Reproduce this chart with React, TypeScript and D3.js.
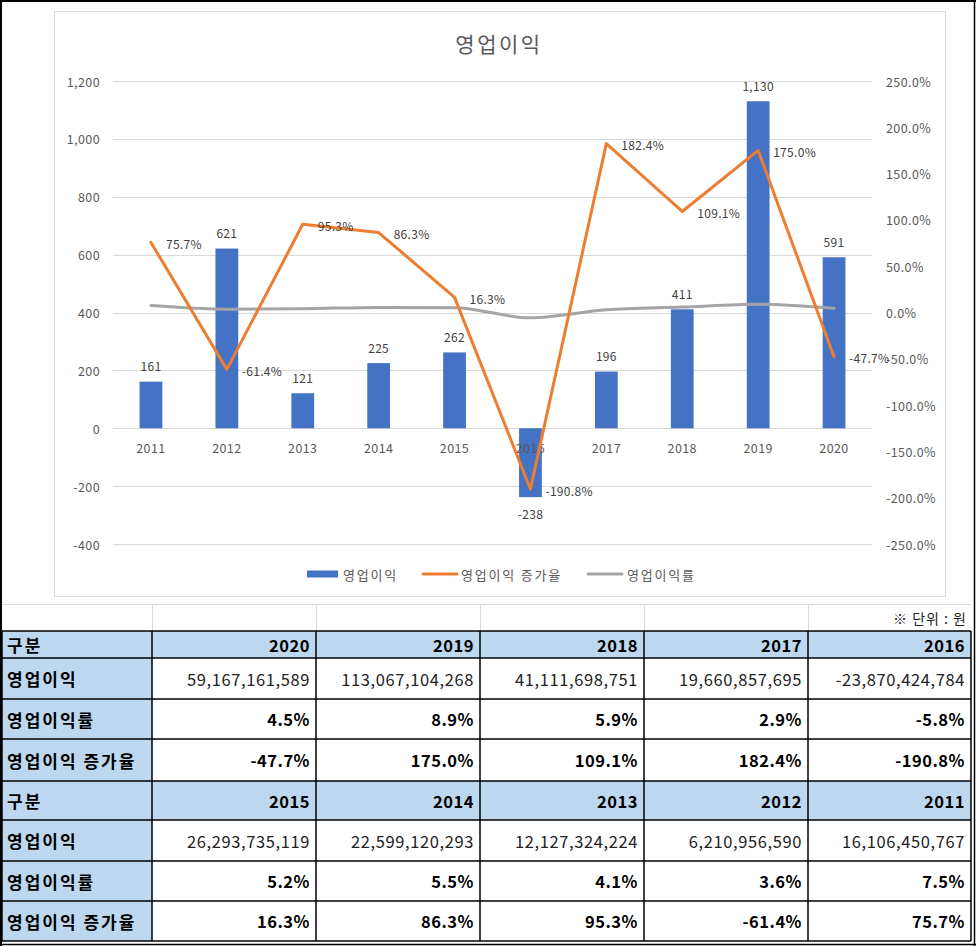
import React from "react";
import * as d3 from "d3";

const years = ["2011", "2012", "2013", "2014", "2015", "2016", "2017", "2018", "2019", "2020"];
const profit = [161, 621, 121, 225, 262, -238, 196, 411, 1130, 591];
const growth = [75.7, -61.4, 95.3, 86.3, 16.3, -190.8, 182.4, 109.1, 175.0, -47.7];
const margin = [7.5, 3.6, 4.1, 5.5, 5.2, -5.8, 2.9, 5.9, 8.9, 4.5];
const leftTicks = [-400, -200, 0, 200, 400, 600, 800, 1000, 1200];
const rightTicks = [-250, -200, -150, -100, -50, 0, 50, 100, 150, 200, 250];

const tableHeaders1 = ["2020", "2019", "2018", "2017", "2016"];
const tableProfit1 = ["59,167,161,589", "113,067,104,268", "41,111,698,751", "19,660,857,695", "-23,870,424,784"];
const tableMargin1 = ["4.5%", "8.9%", "5.9%", "2.9%", "-5.8%"];
const tableGrowth1 = ["-47.7%", "175.0%", "109.1%", "182.4%", "-190.8%"];
const tableHeaders2 = ["2015", "2014", "2013", "2012", "2011"];
const tableProfit2 = ["26,293,735,119", "22,599,120,293", "12,127,324,224", "6,210,956,590", "16,106,450,767"];
const tableMargin2 = ["5.2%", "5.5%", "4.1%", "3.6%", "7.5%"];
const tableGrowth2 = ["16.3%", "86.3%", "95.3%", "-61.4%", "75.7%"];
const rowLabels = ["구분", "영업이익", "영업이익률", "영업이익 증가율"];

const FONT = "'Noto Sans CJK KR', 'Malgun Gothic', sans-serif";
const fmt = (v: number) => d3.format(",")(v).replace("\u2212", "-");

export default function App() {
  const x = d3.scaleBand<string>().domain(years).range([113, 872]).padding(0);
  const yL = d3.scaleLinear().domain([-400, 1200]).range([544, 81]);
  const yR = d3.scaleLinear().domain([-250, 250]).range([544, 81]);
  const cx = (i: number) => (x(years[i]) as number) + x.bandwidth() / 2;
  const barW = x.bandwidth() * 0.3;

  const growthLine = d3.line<number>().x((_, i) => cx(i)).y((d) => yR(d));
  const marginLine = d3.line<number>().x((_, i) => cx(i)).y((d) => yR(d)).curve(d3.curveMonotoneX);

  // table geometry
  const colX = [2, 152, 316, 480, 644, 808, 971];
  const rowY = [631, 658, 699, 739, 781, 820, 861, 901, 941];
  const blocks = [
    [tableHeaders1, tableProfit1, tableMargin1, tableGrowth1],
    [tableHeaders2, tableProfit2, tableMargin2, tableGrowth2],
  ];

  const cells: React.ReactNode[] = [];
  blocks.forEach((block, b) => {
    block.forEach((row, r) => {
      const ri = b * 4 + r;
      const y0 = rowY[ri];
      const y1 = rowY[ri + 1];
      const isHeader = r === 0;
      cells.push(
        <rect key={`lbl-${ri}`} x={colX[0]} y={y0} width={colX[1] - colX[0]} height={y1 - y0} fill="#BDD7EE" />
      );
      cells.push(
        <text key={`lt-${ri}`} x={colX[0] + 5} y={(y0 + y1) / 2} dominantBaseline="central" fontSize={17} fontWeight={700} fill="#000" letterSpacing={2} fontFamily={FONT}>
          {rowLabels[r]}
        </text>
      );
      row.forEach((v, c) => {
        const xa = colX[c + 1];
        const xb = colX[c + 2];
        if (isHeader) {
          cells.push(<rect key={`h-${ri}-${c}`} x={xa} y={y0} width={xb - xa} height={y1 - y0} fill="#BDD7EE" />);
        }
        cells.push(
          <text
            key={`t-${ri}-${c}`}
            x={xb - 6}
            y={(y0 + y1) / 2}
            dominantBaseline="central"
            textAnchor="end"
            fontSize={16.5}
            letterSpacing={r === 1 ? 0.6 : 0.5}
            fontWeight={r === 1 ? 400 : 700}
            fill={r === 1 ? "#222" : "#000"}
            fontFamily={FONT}
          >
            {v}
          </text>
        );
      });
    });
  });

  return (
    <svg width={976} height={946} style={{ position: "absolute", left: 0, top: 0, background: "#fff" }} fontFamily={FONT}>
      <rect x={0} y={0} width={976} height={946} fill="#fff" />
      {/* chart area */}
      <rect x={54.5} y={11.5} width={891} height={585} fill="#fff" stroke="#D9D9D9" strokeWidth={1} />
      <text x={499} y={43} textAnchor="middle" dominantBaseline="central" fontSize={21} fill="#595959" letterSpacing={2.5}>
        영업이익
      </text>
      {/* gridlines */}
      {leftTicks.map((t) => (
        <line key={`g${t}`} x1={113} x2={872} y1={Math.round(yL(t)) + 0.5} y2={Math.round(yL(t)) + 0.5} stroke="#D9D9D9" strokeWidth={1} />
      ))}
      {leftTicks.map((t) => (
        <text key={`lt${t}`} x={100} y={yL(t)} textAnchor="end" dominantBaseline="central" fontSize={12.5} fill="#595959" letterSpacing={0.4}>
          {fmt(t)}
        </text>
      ))}
      {rightTicks.map((t) => (
        <text key={`rt${t}`} x={886} y={yR(t)} textAnchor="start" dominantBaseline="central" fontSize={12.5} fill="#595959" letterSpacing={0.4}>
          {t.toFixed(1)}%
        </text>
      ))}
      {/* bars */}
      {profit.map((v, i) => (
        <rect
          key={`b${i}`}
          x={cx(i) - barW / 2}
          y={Math.min(yL(v), yL(0))}
          width={barW}
          height={Math.abs(yL(v) - yL(0))}
          fill="#4472C4"
        />
      ))}
      {/* x labels */}
      {years.map((yv, i) => (
        <text key={`x${yv}`} x={cx(i)} y={447} textAnchor="middle" dominantBaseline="central" fontSize={12.5} fill="#595959" letterSpacing={0.4}>
          {yv}
        </text>
      ))}
      {/* lines */}
      <path d={marginLine(margin) || ""} fill="none" stroke="#A5A5A5" strokeWidth={3} strokeLinejoin="round" strokeLinecap="round" />
      <path d={growthLine(growth) || ""} fill="none" stroke="#ED7D31" strokeWidth={3} strokeLinejoin="round" strokeLinecap="round" />
      {/* bar labels */}
      {profit.map((v, i) => (
        <text
          key={`bl${i}`}
          x={cx(i)}
          y={v >= 0 ? yL(v) - 16 : yL(v) + 16}
          textAnchor="middle"
          dominantBaseline="central"
          fontSize={12}
          fill="#404040"
          letterSpacing={0.3}
        >
          {fmt(v)}
        </text>
      ))}
      {/* growth labels */}
      {growth.map((v, i) => (
        <text key={`gl${i}`} x={cx(i) + 15} y={yR(v) + 1} textAnchor="start" dominantBaseline="central" fontSize={12} fill="#404040" letterSpacing={0.3}>
          {v.toFixed(1)}%
        </text>
      ))}
      {/* legend */}
      <rect x={307} y={570.5} width={31} height={7} fill="#4472C4" />
      <text x={343} y={574} dominantBaseline="central" fontSize={13} fill="#595959" letterSpacing={1.8}>
        영업이익
      </text>
      <line x1={423} x2={457} y1={574} y2={574} stroke="#ED7D31" strokeWidth={3} strokeLinecap="round" />
      <text x={461} y={574} dominantBaseline="central" fontSize={13} fill="#595959" letterSpacing={1.8}>
        영업이익 증가율
      </text>
      <line x1={588} x2={622} y1={574} y2={574} stroke="#A5A5A5" strokeWidth={3} strokeLinecap="round" />
      <text x={627} y={574} dominantBaseline="central" fontSize={13} fill="#595959" letterSpacing={1.8}>
        영업이익률
      </text>

      {/* table unit row */}
      <line x1={2} x2={971} y1={604.5} y2={604.5} stroke="#D9D9D9" strokeWidth={1} />
      {colX.slice(1, 6).map((cxv, i) => (
        <line key={`uv${i}`} x1={cxv + 0.5} x2={cxv + 0.5} y1={604} y2={631} stroke="#D9D9D9" strokeWidth={1} />
      ))}
      <text x={967} y={617.5} textAnchor="end" dominantBaseline="central" fontSize={14} fill="#222" letterSpacing={1}>
        ※ 단위 : 원
      </text>

      {cells}
      {/* table borders */}
      {rowY.map((ry, i) => (
        <line key={`hr${i}`} x1={colX[0]} x2={colX[6]} y1={ry} y2={ry} stroke="#000" strokeWidth={1.5} />
      ))}
      {colX.map((cxv, i) => (
        <line key={`vr${i}`} x1={cxv} x2={cxv} y1={rowY[0]} y2={rowY[8]} stroke="#000" strokeWidth={1.5} />
      ))}
      {/* outer frame */}
      <line x1={1} x2={1} y1={0} y2={946} stroke="#000" strokeWidth={2} />
      <line x1={0} x2={976} y1={1} y2={1} stroke="#000" strokeWidth={2} />
      <line x1={974.5} x2={974.5} y1={0} y2={946} stroke="#000" strokeWidth={1.5} />
      <line x1={0} x2={976} y1={944.5} y2={944.5} stroke="#000" strokeWidth={1.5} />
    </svg>
  );
}
